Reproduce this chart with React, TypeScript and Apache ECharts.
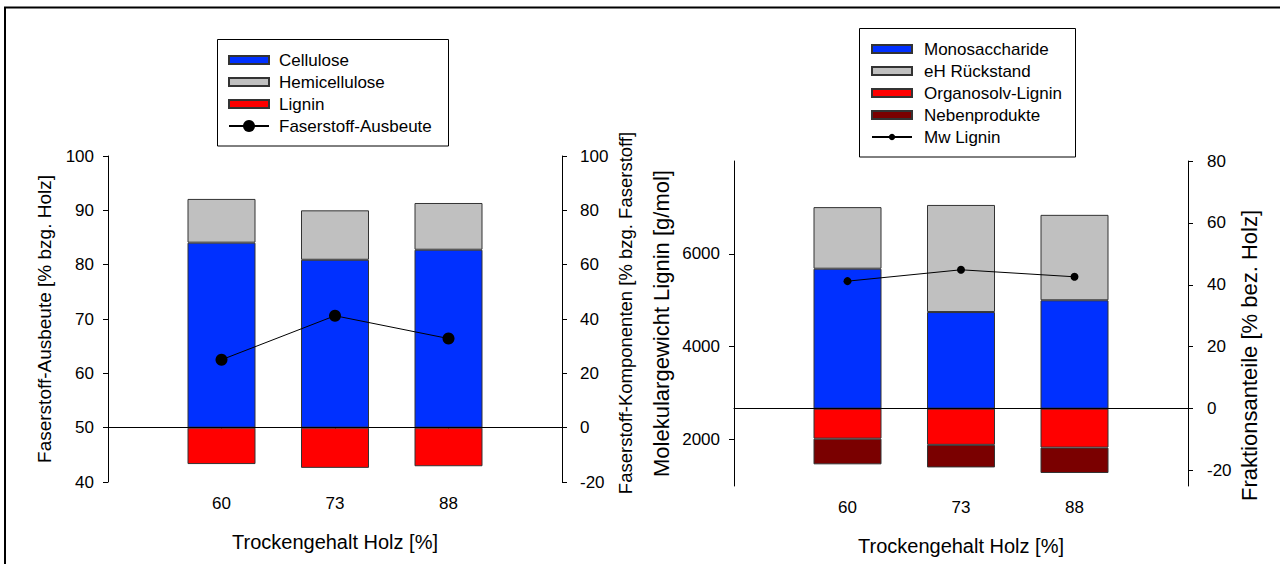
import React, { useEffect, useRef } from "react";
import * as echarts from "echarts";

// ---------- data ----------
const xCategories = ["60", "73", "88"];

// left panel (Faserstoff)
const cellulose = [68.1, 61.8, 65.5];
const hemicellulose = [16.1, 18.2, 17.2];
const lignin = [-13.4, -14.8, -14.2];
const faserstoffAusbeute = [62.5, 70.6, 66.4];

// right panel (Fraktionen)
const monosaccharide = [45.2, 31.2, 35.0];
const ehRueckstand = [19.9, 34.6, 27.6];
const organosolvLignin = [-9.7, -11.7, -12.6];
const nebenprodukte = [-8.3, -7.3, -8.2];
const mwLignin = [5412, 5657, 5506];

const mwTicks = [2000, 4000, 6000];
const fraktionTicks = [-20, 0, 20, 40, 60, 80];

// ---------- style ----------
const FONT = "Liberation Sans, Arial, Helvetica, sans-serif";
const BLUE = "#0030ff";
const GRAY = "#c0c0c0";
const RED = "#ff0000";
const DARKRED = "#7a0000";
const EDGE = "#333333";
const TICK_FS = 17;

const pad = (a: number[]) => [null, ...a, null];
const axisCats = ["", ...xCategories, ""];
const plain = (v: number) => String(v);

function xAxisCfg(gridIndex: number) {
  return {
    type: "category",
    gridIndex,
    data: axisCats,
    boundaryGap: false,
    name: "Trockengehalt Holz [%]",
    nameLocation: "middle",
    nameGap: 50,
    nameTextStyle: { fontSize: 20, color: "#000", fontFamily: FONT },
    axisLine: { lineStyle: { color: "#000", width: 1 } },
    axisTick: {
      length: 5,
      interval: (i: number) => i > 0 && i < axisCats.length - 1,
      lineStyle: { color: "#000" },
    },
    axisLabel: { fontSize: TICK_FS, color: "#000", fontFamily: FONT, margin: 13, interval: 0 },
    splitLine: { show: false },
  };
}

function yAxisCfg(opts: any) {
  const { name, position, nameGap, labelMargin, nameSize, namePadding, customTicks, ...rest } = opts;
  return {
    type: "value",
    position,
    name,
    nameLocation: "middle",
    nameRotate: 90,
    nameGap,
    nameTextStyle: {
      fontSize: nameSize || 19,
      color: "#000",
      fontFamily: FONT,
      padding: namePadding || 0,
    },
    axisLine: { show: true, lineStyle: { color: "#000", width: 1 } },
    axisTick: {
      show: true,
      length: 5,
      lineStyle: { color: "#000" },
      ...(customTicks ? { customValues: customTicks } : {}),
    },
    axisLabel: {
      fontSize: TICK_FS,
      color: "#000",
      fontFamily: FONT,
      margin: labelMargin,
      formatter: plain,
      ...(customTicks ? { customValues: customTicks } : {}),
    },
    splitLine: { show: false },
    ...rest,
  };
}

const legendText = (padLeft: number) => ({
  fontSize: 17,
  color: "#000",
  fontFamily: FONT,
  padding: [0, 0, 0, padLeft],
});

const barItem = (color: string) => ({ color, borderColor: EDGE, borderWidth: 1 });

export default function App() {
  const ref = useRef<HTMLDivElement>(null);

  useEffect(() => {
    if (!ref.current) return;
    const chart = echarts.init(ref.current, null, { renderer: "svg" });

    const zeroLine = {
      silent: true,
      symbol: ["none", "none"],
      label: { show: false },
      lineStyle: { color: "#000", width: 1, type: "solid" },
      emphasis: { disabled: true },
      data: [{ yAxis: 0 }],
    };

    const option: any = {
      animation: false,
      backgroundColor: "#fff",
      textStyle: { fontFamily: FONT },
      grid: [
        { left: 108, right: 718, top: 156, bottom: 82 },
        { left: 734, right: 92, top: 161, bottom: 78 },
      ],
      xAxis: [xAxisCfg(0), xAxisCfg(1)],
      yAxis: [
        yAxisCfg({
          gridIndex: 0,
          position: "left",
          name: "Faserstoff-Ausbeute [% bzg. Holz]",
          nameGap: 54,
          labelMargin: 14,
          min: 40,
          max: 100,
          interval: 10,
        }),
        yAxisCfg({
          gridIndex: 0,
          position: "right",
          name: "Faserstoff-Komponenten [% bzg. Faserstoff]",
          nameGap: 54,
          nameSize: 18.5,
          namePadding: [0, 0, 0, 12],
          labelMargin: 18,
          min: -20,
          max: 100,
          interval: 20,
        }),
        yAxisCfg({
          gridIndex: 1,
          position: "left",
          name: "Molekulargewicht Lignin [g/mol]",
          nameGap: 62,
          nameSize: 22,
          labelMargin: 14,
          min: 1000,
          max: 8000,
          customTicks: mwTicks,
        }),
        yAxisCfg({
          gridIndex: 1,
          position: "right",
          name: "Fraktionsanteile [% bez. Holz]",
          nameGap: 50,
          nameSize: 22,
          namePadding: [0, 64, 0, 0],
          labelMargin: 19,
          min: -25,
          max: 80,
          customTicks: fraktionTicks,
        }),
      ],
      legend: [
        {
          data: ["Cellulose", "Hemicellulose", "Lignin"],
          orient: "vertical",
          left: 228,
          top: 51.5,
          padding: 0,
          itemGap: 5,
          itemWidth: 40,
          itemHeight: 8,
          icon: "rect",
          selectedMode: false,
          textStyle: legendText(5),
        },
        {
          data: ["Faserstoff-Ausbeute"],
          orient: "vertical",
          left: 228,
          top: 117.5,
          padding: 0,
          itemWidth: 40,
          itemHeight: 15,
          selectedMode: false,
          textStyle: legendText(5),
        },
        {
          data: [
            { name: "Monosaccharide", icon: "rect" },
            { name: "eH Rückstand", icon: "rect" },
            { name: "Organosolv-Lignin", icon: "rect" },
            { name: "Nebenprodukte", icon: "rect" },
            "Mw Lignin",
          ],
          orient: "vertical",
          left: 871,
          top: 40.5,
          padding: 0,
          itemGap: 5,
          itemWidth: 40,
          itemHeight: 8,
          selectedMode: false,
          textStyle: legendText(7),
        },
      ],
      graphic: [
        {
          type: "polyline",
          shape: { points: [[5, 564], [5, 7.5], [1280, 7.5]] },
          style: { stroke: "#000", lineWidth: 2, fill: null },
          silent: true,
        },
        {
          type: "rect",
          shape: { x: 217.5, y: 39.5, width: 231, height: 106.5 },
          style: { stroke: "#000", lineWidth: 1, fill: null },
          silent: true,
          z: -1,
        },
        {
          type: "rect",
          shape: { x: 859.5, y: 28.5, width: 216, height: 128.5 },
          style: { stroke: "#000", lineWidth: 1, fill: null },
          silent: true,
          z: -1,
        },
      ],
      series: [
        // left panel
        {
          name: "Cellulose",
          type: "bar",
          xAxisIndex: 0,
          yAxisIndex: 1,
          stack: "left",
          barWidth: 68,
          data: pad(cellulose),
          itemStyle: barItem(BLUE),
          emphasis: { disabled: true },
        },
        {
          name: "Hemicellulose",
          type: "bar",
          xAxisIndex: 0,
          yAxisIndex: 1,
          stack: "left",
          barWidth: 68,
          data: pad(hemicellulose),
          itemStyle: barItem(GRAY),
          emphasis: { disabled: true },
        },
        {
          name: "Lignin",
          type: "bar",
          xAxisIndex: 0,
          yAxisIndex: 1,
          stack: "left",
          barWidth: 68,
          data: pad(lignin),
          itemStyle: barItem(RED),
          emphasis: { disabled: true },
          markLine: zeroLine,
        },
        {
          name: "Faserstoff-Ausbeute",
          type: "line",
          xAxisIndex: 0,
          yAxisIndex: 0,
          data: pad(faserstoffAusbeute),
          symbol: "circle",
          symbolSize: 12,
          showSymbol: true,
          lineStyle: { color: "#000", width: 1 },
          itemStyle: { color: "#000" },
          emphasis: { disabled: true },
          z: 5,
        },
        // right panel
        {
          name: "Monosaccharide",
          type: "bar",
          xAxisIndex: 1,
          yAxisIndex: 3,
          stack: "right",
          barWidth: 68,
          data: pad(monosaccharide),
          itemStyle: barItem(BLUE),
          emphasis: { disabled: true },
        },
        {
          name: "eH Rückstand",
          type: "bar",
          xAxisIndex: 1,
          yAxisIndex: 3,
          stack: "right",
          barWidth: 68,
          data: pad(ehRueckstand),
          itemStyle: barItem(GRAY),
          emphasis: { disabled: true },
        },
        {
          name: "Organosolv-Lignin",
          type: "bar",
          xAxisIndex: 1,
          yAxisIndex: 3,
          stack: "right",
          barWidth: 68,
          data: pad(organosolvLignin),
          itemStyle: barItem(RED),
          emphasis: { disabled: true },
        },
        {
          name: "Nebenprodukte",
          type: "bar",
          xAxisIndex: 1,
          yAxisIndex: 3,
          stack: "right",
          barWidth: 68,
          data: pad(nebenprodukte),
          itemStyle: barItem(DARKRED),
          emphasis: { disabled: true },
          markLine: zeroLine,
        },
        {
          name: "Mw Lignin",
          type: "line",
          xAxisIndex: 1,
          yAxisIndex: 2,
          data: pad(mwLignin),
          symbol: "circle",
          symbolSize: 8,
          showSymbol: true,
          lineStyle: { color: "#000", width: 1 },
          itemStyle: { color: "#000" },
          emphasis: { disabled: true },
          z: 5,
        },
      ],
    };

    chart.setOption(option);
    return () => chart.dispose();
  }, []);

  return (
    <div
      ref={ref}
      style={{ position: "fixed", left: 0, top: 0, width: 1280, height: 564, background: "#fff" }}
    />
  );
}
